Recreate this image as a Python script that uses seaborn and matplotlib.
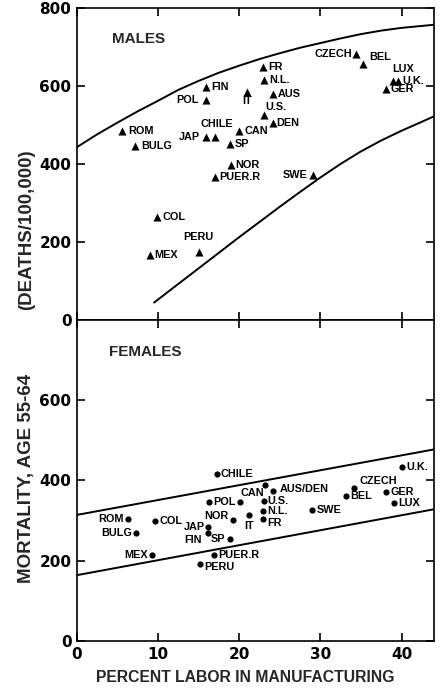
import matplotlib
matplotlib.use("Agg")
import matplotlib.pyplot as plt
import seaborn as sns
import pandas as pd

# ---------------- data ----------------
male_countries = ["ROM", "BULG", "FIN", "POL", "IT", "JAP", "CHILE", "CAN", "SP", "NOR",
                  "PUER.R", "COL", "PERU", "MEX", "FR", "N.L.", "AUS", "U.S.", "DEN",
                  "CZECH", "BEL", "LUX", "U.K.", "GER", "SWE"]
male_labor = [5.6, 7.2, 15.9, 15.9, 21.0, 15.9, 17.0, 20.0, 18.8, 19.0,
              17.0, 9.8, 15.0, 9.0, 22.9, 23.0, 24.1, 23.0, 24.1,
              34.4, 35.3, 39.0, 39.6, 38.1, 29.1]
male_mortality = [484, 447, 596, 565, 585, 469, 469, 485, 450, 397,
                  367, 264, 174, 166, 649, 615, 579, 525, 504,
                  683, 657, 612, 612, 591, 371]

female_countries = ["CHILE", "CAN", "POL", "NOR", "IT", "ROM", "COL", "BULG", "JAP", "FIN",
                    "SP", "MEX", "PUER.R", "PERU", "AUS", "DEN", "U.S.", "N.L.", "FR",
                    "SWE", "CZECH", "BEL", "U.K.", "GER", "LUX"]
female_labels = ["CHILE", "CAN", "POL", "NOR", "IT", "ROM", "COL", "BULG", "JAP", "FIN",
                 "SP", "MEX", "PUER.R", "PERU", "", "AUS/DEN", "U.S.", "N.L.", "FR",
                 "SWE", "CZECH", "BEL", "U.K.", "GER", "LUX"]
female_labor = [17.2, 20.1, 16.3, 19.2, 21.2, 6.3, 9.6, 7.3, 16.1, 16.1,
                18.8, 9.3, 16.9, 15.2, 23.2, 24.1, 23.0, 22.9, 22.9,
                29.0, 34.1, 33.2, 40.1, 38.1, 39.1]
female_mortality = [415, 345, 345, 301, 314, 304, 298, 268, 283, 270,
                    253, 214, 214, 191, 388, 374, 349, 324, 304,
                    326, 382, 361, 434, 370, 343]

# envelope curves
male_upper_x = [0, 2.5, 5, 7.5, 10, 12.5, 15, 17.5, 20, 22.5, 25, 27.5, 30,
                32.5, 35, 37.5, 40, 42.5, 44]
male_upper_y = [443, 476, 506, 535, 562, 590, 613, 634, 652, 669, 684, 698, 710,
                722, 733, 742, 749, 754, 757]
male_lower_x = [9.5, 12.5, 15, 17.5, 20, 22.5, 25, 27.5, 30, 32.5, 35, 37.5, 40, 42.5, 44]
male_lower_y = [44, 92, 132, 172, 212, 251, 290, 328, 365, 400, 432, 460, 485, 508, 522]
female_band_x = [0, 44]
female_upper_y = [314, 477]
female_lower_y = [164, 328]

x_ticks = [0, 10, 20, 30, 40]
y_ticks = [0, 200, 400, 600, 800]

# ---------------- label layout (offsets in points) ----------------
male_lab = {
    "ROM": (4, 0, "left", "center"), "BULG": (4, 0, "left", "center"),
    "FIN": (4, 0, "left", "center"), "POL": (-5, 0, "right", "center"),
    "IT": (0, -7, "center", "center"), "JAP": (-4, 0, "right", "center"),
    "CHILE": (1, 9, "center", "center"), "CAN": (4, 0, "left", "center"),
    "SP": (4, 0, "left", "center"), "NOR": (3, 0, "left", "center"),
    "PUER.R": (3, 0, "left", "center"), "COL": (4, 0, "left", "center"),
    "PERU": (0, 11, "center", "center"), "MEX": (3, 0, "left", "center"),
    "FR": (4, 0, "left", "center"), "N.L.": (4, 0, "left", "center"),
    "AUS": (4, 0, "left", "center"), "U.S.": (1, 6, "left", "center"),
    "DEN": (3, 0, "left", "center"), "CZECH": (-3, 0, "right", "center"),
    "BEL": (4, 5, "left", "center"), "LUX": (-1, 9, "left", "center"),
    "U.K.": (3, 0, "left", "center"), "GER": (3, 0, "left", "center"),
    "SWE": (-4, 0, "right", "center"),
}
female_lab = {
    "CHILE": (3, 0, "left", "center"), "CAN": (0, 7, "left", "center"),
    "POL": (3, 0, "left", "center"), "NOR": (-3, 3, "right", "center"),
    "IT": (0, -8, "center", "center"), "ROM": (-3, 0, "right", "center"),
    "COL": (3, 0, "left", "center"), "BULG": (-3, 0, "right", "center"),
    "JAP": (-2, 0, "right", "center"), "FIN": (-4, -5, "right", "center"),
    "SP": (-3, 0, "right", "center"), "MEX": (-3, 0, "right", "center"),
    "PUER.R": (3, 0, "left", "center"), "PERU": (3, -2, "left", "center"),
    "AUS/DEN": (5, 1, "left", "center"), "U.S.": (3, 0, "left", "center"),
    "N.L.": (3, 0, "left", "center"), "FR": (3, -3, "left", "center"),
    "SWE": (3, 0, "left", "center"), "CZECH": (4, 5, "left", "center"),
    "BEL": (3, 0, "left", "center"), "U.K.": (3, 0, "left", "center"),
    "GER": (3, 0, "left", "center"), "LUX": (3, 0, "left", "center"),
}

sns.set_theme(style="white")
plt.rcParams["font.family"] = ["Liberation Sans", "DejaVu Sans"]

W, H = 445, 688
fig = plt.figure(figsize=(W / 100, H / 100), dpi=100)
left, right = 77 / W, 434 / W
ax_m = fig.add_axes([left, 1 - 319.7 / H, right - left, (319.7 - 8) / H])
ax_f = fig.add_axes([left, 1 - 641 / H, right - left, (641 - 319.7) / H])

male_df = pd.DataFrame({"country": male_countries, "labor": male_labor, "mort": male_mortality})
female_df = pd.DataFrame({"country": female_countries, "label": female_labels,
                          "labor": female_labor, "mort": female_mortality})

LFS = 7.8
lab_kw = dict(fontsize=LFS, fontweight="bold", color="black")

# males
sns.scatterplot(data=male_df, x="labor", y="mort", marker="^", s=34, color="black",
                edgecolor="black", linewidth=0, ax=ax_m, zorder=3)
sns.lineplot(x=male_upper_x, y=male_upper_y, color="black", lw=1.4, ax=ax_m)
sns.lineplot(x=male_lower_x, y=male_lower_y, color="black", lw=1.4, ax=ax_m)
for c, xv, yv in zip(male_countries, male_labor, male_mortality):
    dx, dy, ha, va = male_lab[c]
    ax_m.annotate(c, (xv, yv), xytext=(dx, dy), textcoords="offset points",
                  ha=ha, va=va, **lab_kw)
ax_m.text(4.3, 720, "MALES", fontsize=11, fontweight="bold", va="center", ha="left")

# females
sns.scatterplot(data=female_df, x="labor", y="mort", marker="o", s=20, color="black",
                edgecolor="black", linewidth=0, ax=ax_f, zorder=3)
sns.lineplot(x=female_band_x, y=female_upper_y, color="black", lw=1.4, ax=ax_f)
sns.lineplot(x=female_band_x, y=female_lower_y, color="black", lw=1.4, ax=ax_f)
for lab, xv, yv in zip(female_labels, female_labor, female_mortality):
    if not lab:
        continue
    dx, dy, ha, va = female_lab[lab]
    ax_f.annotate(lab, (xv, yv), xytext=(dx, dy), textcoords="offset points",
                  ha=ha, va=va, **lab_kw)
ax_f.text(3.9, 720, "FEMALES", fontsize=11, fontweight="bold", va="center", ha="left")

for ax in (ax_m, ax_f):
    ax.set_xlim(0, 44)
    ax.set_ylim(0, 800)
    ax.set_xticks(x_ticks)
    ax.set_yticks(y_ticks)
    ax.set_xlabel("")
    ax.set_ylabel("")
    for sp in ax.spines.values():
        sp.set_color("black")
        sp.set_linewidth(1.2)
        sp.set_visible(True)
    ax.tick_params(direction="in", length=6, width=1.2, colors="black",
                   top=True, right=True, bottom=True, left=True,
                   labelsize=11, pad=4)
    ax.set_facecolor("white")

ax_m.tick_params(labelbottom=False)
ax_f.set_yticks(y_ticks[:-1])
ax_f.set_xticklabels([str(t) for t in x_ticks])
for ax in (ax_m, ax_f):
    for t in ax.get_xticklabels() + ax.get_yticklabels():
        t.set_fontfamily("DejaVu Sans")
        t.set_fontweight("bold")
        t.set_fontsize(11)

fig.text(245 / W, 1 - 678 / H, "PERCENT LABOR IN MANUFACTURING", fontsize=11.3,
         fontweight="bold", ha="center", va="center")
fig.text(27 / W, 1 - 478 / H, "MORTALITY, AGE 55-64", fontsize=13.5, fontweight="bold",
         rotation=90, ha="center", va="center")
fig.text(27 / W, 1 - 230 / H, "(DEATHS/100,000)", fontsize=13.5, fontweight="bold",
         rotation=90, ha="center", va="center")

fig.savefig("out.png", dpi=100, facecolor="white")
